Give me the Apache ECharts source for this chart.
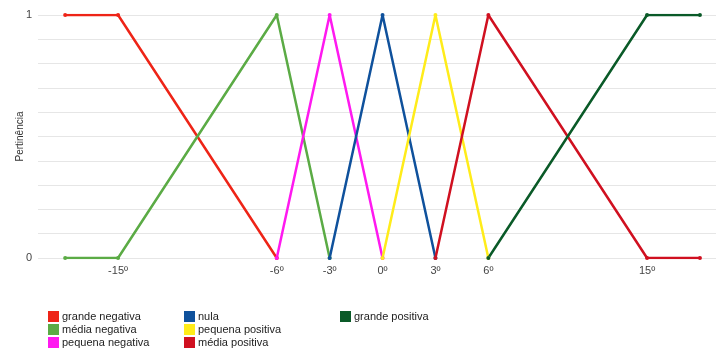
<!DOCTYPE html>
<html><head><meta charset="utf-8">
<script src="https://cdn.jsdelivr.net/npm/echarts@6/dist/echarts.min.js"></script>
<style>html,body{margin:0;padding:0;background:#fff}#c{width:717px;height:349px}</style>
</head><body><div id="c"></div>
<script>
const seriesNames = ['grande negativa','média negativa','pequena negativa','nula','pequena positiva','média positiva','grande positiva'];
const seriesColors = ['#ee2417','#5bab45','#ff19f0','#0f519c','#ffec1a','#d01020','#0a5a28'];
const grandeNegativa = [[-18,1],[-15,1],[-6,0]];
const mediaNegativa = [[-18,0],[-15,0],[-6,1],[-3,0]];
const pequenaNegativa = [[-6,0],[-3,1],[0,0]];
const nula = [[-3,0],[0,1],[3,0]];
const pequenaPositiva = [[0,0],[3,1],[6,0]];
const mediaPositiva = [[3,0],[6,1],[15,0],[18,0]];
const grandePositiva = [[6,0],[15,1],[18,1]];
const xTickValues = [-15,-6,-3,0,3,6,15];
const yTickLabels = ['0','1'];
const allData = [grandeNegativa, mediaNegativa, pequenaNegativa, nula, pequenaPositiva, mediaPositiva, grandePositiva];

const chart = echarts.init(document.getElementById('c'));
const font = 'Liberation Sans, Arial, sans-serif';
const legendCommon = {orient:'vertical', icon:'rect', itemWidth:11, itemHeight:11, itemGap:2,
  textStyle:{fontFamily:font, fontSize:11, color:'#222', padding:[0,0,0,-2]}, selectedMode:false, padding:0};
chart.setOption({
  animation:false,
  grid:{left:38, right:1, top:15, bottom:91, outerBoundsMode:'none', containLabel:false},
  xAxis:{type:'value', min:-19.54, max:18.91,
    axisLine:{show:false}, axisTick:{show:false}, splitLine:{show:false},
    axisLabel:{customValues:xTickValues, formatter:v=>v+'º', fontFamily:font, fontSize:11, color:'#444', margin:7}},
  yAxis:{type:'value', min:0, max:1, interval:0.1,
    name:'Pertinência', nameLocation:'middle', nameGap:13, nameRotate:90, nameMoveOverlap:false,
    nameTextStyle:{fontFamily:font, fontSize:10, color:'#333'},
    axisLine:{show:false}, axisTick:{show:false},
    splitLine:{lineStyle:{color:'#e6e6e6', width:1}},
    axisLabel:{formatter:v=>{ if(Math.abs(v)<1e-9) return yTickLabels[0]; if(Math.abs(v-1)<1e-9) return yTickLabels[1]; return ''; },
      fontFamily:font, fontSize:11, color:'#444', margin:6}},
  legend:[
    Object.assign({left:48, top:311, data:seriesNames.slice(0,3)}, legendCommon),
    Object.assign({left:184, top:311, data:seriesNames.slice(3,6)}, legendCommon),
    Object.assign({left:340, top:311, data:seriesNames.slice(6)}, legendCommon)
  ],
  series: seriesNames.map((n,i)=>({
    name:n, type:'line', data:allData[i], color:seriesColors[i],
    symbol:'circle', symbolSize:4, showSymbol:true,
    lineStyle:{width:2.5, color:seriesColors[i]}, itemStyle:{color:seriesColors[i]}
  }))
});
</script></body></html>
